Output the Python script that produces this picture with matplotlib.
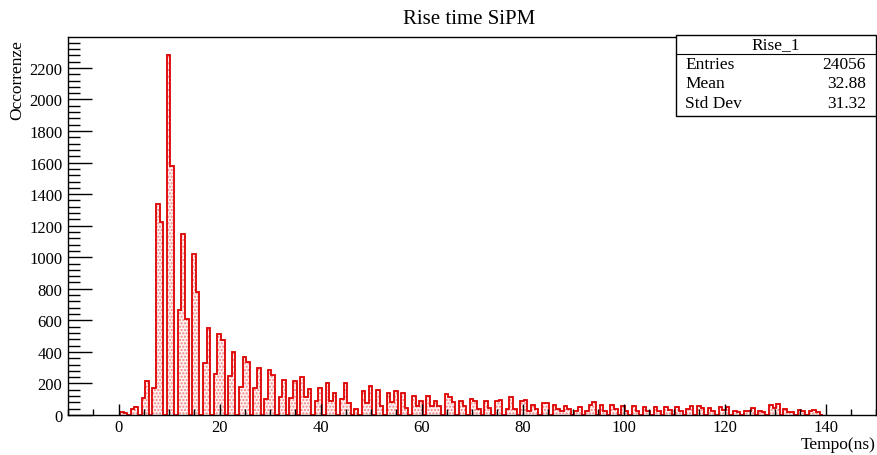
import matplotlib.pyplot as plt
import numpy as np
from matplotlib.ticker import MultipleLocator
from matplotlib.patches import Rectangle
from matplotlib.lines import Line2D

plt.rcParams['font.family'] = ['Liberation Serif', 'DejaVu Serif']

# histogram settings (bin width)
bin_start = 0.3
bin_width = 0.714

# counts per bin
counts_a = [19, 10, 0, 38, 48, 0, 107, 217, 0, 171, 1338, 1222, 0, 2282, 1580,
            0, 666, 1148, 607, 0, 1018, 780, 0, 327, 552, 0, 259, 514, 476, 0,
            249, 400, 0, 175, 365, 337]
counts_b = [0, 169, 301, 0, 101, 287, 253, 0, 112, 223, 0, 107, 215, 0, 238,
            112, 164, 0, 91, 169, 0, 202, 88, 139]
counts_c = [0, 101, 202, 76, 0, 35, 0, 150, 74, 185, 0, 160, 59, 0, 137, 80,
            150, 0, 139, 42, 0, 118, 59, 90, 0, 122, 59]
counts_d = [86, 59, 0, 133, 112, 80, 0, 86, 59, 0, 101, 91, 38, 0, 91, 42, 0,
            91, 95, 0, 38, 112, 38, 0, 91, 95]
counts_e = [27, 63, 38, 0, 76, 76, 0, 63, 38, 25, 59, 38, 0, 27, 53, 0, 27, 63,
            84, 0, 63, 27, 0, 63, 40, 0]
counts_f = [59, 27, 0, 55, 27, 0, 48, 27, 0, 48, 27, 0, 48, 32, 0, 48, 27, 0,
            38, 59, 0, 59, 42, 0, 42, 27, 0, 48]
counts_g = [34, 48, 0, 27, 17, 0, 27, 27, 42, 0, 27, 17, 0, 63, 42, 70, 0, 38,
            17, 17, 0, 34, 27, 0, 27, 34, 17, 0]

counts = np.array(counts_a + counts_b + counts_c + counts_d + counts_e + counts_f + counts_g)
edges = bin_start + bin_width * np.arange(len(counts) + 1)

stat_labels = ['Entries', 'Mean', 'Std Dev']
stat_values = ['24056', '32.88', '31.32']

W, H = 877, 456
fig = plt.figure(figsize=(W / 100, H / 100), dpi=100)
ax = fig.add_axes([68 / W, 1 - 416 / H, (876 - 68) / W, (416 - 38) / H])

# dotted fill + red outline, ROOT style
ax.stairs(counts, edges, fill=True, facecolor='#fff2f2', edgecolor='#f58080',
          hatch='.....', linewidth=0)
ax.stairs(counts, edges, color='#dd0000', linewidth=1.3)

ax.set_xlim(-10, 150)
ax.set_ylim(0, 2396)
ax.xaxis.set_major_locator(MultipleLocator(20))
ax.xaxis.set_minor_locator(MultipleLocator(5))
ax.yaxis.set_major_locator(MultipleLocator(200))
ax.yaxis.set_minor_locator(MultipleLocator(40))
ax.tick_params(axis='x', which='major', direction='in', length=8, width=1, pad=3, labelsize=12)
ax.tick_params(axis='x', which='minor', direction='in', length=4, width=1)
ax.tick_params(axis='y', which='major', direction='in', length=17.5, width=1, pad=4, labelsize=12)
ax.tick_params(axis='y', which='minor', direction='in', length=8.7, width=1)
for s in ax.spines.values():
    s.set_linewidth(1)

fig.text(0.535, 1 - 20 / H, 'Rise time SiPM', ha='center', va='center', fontsize=15)
fig.text(876 / W, 1 - 445 / H, 'Tempo(ns)', ha='right', va='center', fontsize=12.5)
fig.text(17 / W, 1 - 40 / H, 'Occorrenze', ha='center', va='top', rotation=90, fontsize=12.5)

# stats box
bx0, by0, bx1, by1 = 676, 36, 876, 117
fig.patches.append(Rectangle((bx0 / W, 1 - by1 / H), (bx1 - bx0) / W, (by1 - by0) / H,
                             transform=fig.transFigure, facecolor='white',
                             edgecolor='black', linewidth=1, zorder=5))
fig.lines.append(Line2D([bx0 / W, bx1 / W], [1 - 55 / H, 1 - 55 / H],
                        transform=fig.transFigure, color='black', linewidth=0.8, zorder=6))
fig.text((bx0 + bx1) / 2 / W, 1 - 45 / H, 'Rise_1', ha='center', va='center', fontsize=12.5, zorder=7)
for i, (lab, val) in enumerate(zip(stat_labels, stat_values)):
    yy = 1 - (65 + 19.5 * i) / H
    fig.text(685 / W, yy, lab, ha='left', va='center', fontsize=12.5, zorder=7)
    fig.text(866 / W, yy, val, ha='right', va='center', fontsize=12.5, zorder=7)

fig.savefig('out.png', dpi=100)
